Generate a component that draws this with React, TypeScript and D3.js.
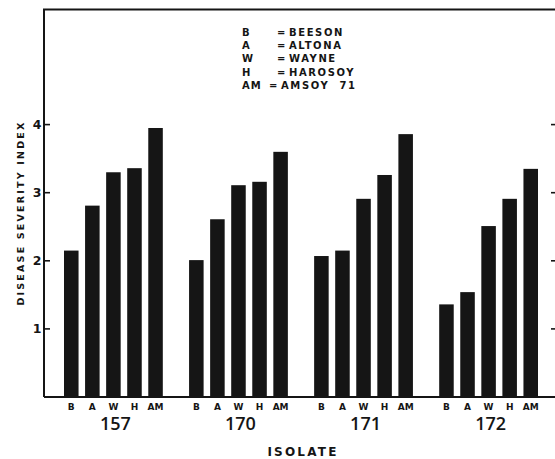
import React from 'react';
import * as d3 from 'd3';

// isolates along the x axis, cultivars inside each group
const isolates = ['157', '170', '171', '172'];
const cultivars = ['B', 'A', 'W', 'H', 'AM'];
const cultivarNames = ['BEESON', 'ALTONA', 'WAYNE', 'HAROSOY', 'AMSOY  71'];
const yTicks = [1, 2, 3, 4];

// disease severity index, one list per isolate
const sev157 = [2.15, 2.81, 3.3, 3.36, 3.95];
const sev170 = [2.01, 2.61, 3.11, 3.16, 3.6];
const sev171 = [2.07, 2.15, 2.91, 3.26, 3.86];
const sev172 = [1.36, 1.54, 2.51, 2.91, 3.35];
const severity = [sev157, sev170, sev171, sev172];

const W = 555;
const H = 459;
const left = 44;
const right = 558;
const top = 9.5;
const bottom = 397;
const ink = '#151515';
const labelFont = '"DejaVu Sans", sans-serif';

export default function App() {
  // y scale: top of the frame sits a bit above 5.6
  const y = d3.scaleLinear().domain([0, 5.69]).range([bottom, top]);

  // outer band per isolate, inner band per cultivar
  const xGroup = d3
    .scaleBand()
    .domain(isolates)
    .range([left, right])
    .paddingInner(0.21)
    .paddingOuter(0.16);
  const xBar = d3
    .scaleBand()
    .domain(cultivars)
    .range([0, xGroup.bandwidth()])
    .paddingInner(0.31)
    .paddingOuter(0);

  return (
    <svg
      width={W}
      height={H}
      style={{ position: 'absolute', left: 0, top: 0, background: '#fff' }}
    >
      {/* frame: left axis, top line, bottom axis (right side is cut off) */}
      <path
        d={['M', left, bottom, 'V', top, 'H', right].join(' ')}
        fill="none"
        stroke={ink}
        strokeWidth={2}
      />
      <line x1={left} x2={right} y1={bottom} y2={bottom} stroke={ink} strokeWidth={2} />

      {/* y ticks, pointing inward on both sides */}
      {yTicks.map((t) => (
        <g key={t}>
          <line x1={left} x2={left + 6} y1={y(t)} y2={y(t)} stroke={ink} strokeWidth={1.6} />
          <line x1={W - 4} x2={W} y1={y(t)} y2={y(t)} stroke={ink} strokeWidth={1.6} />
          <text
            x={37}
            y={y(t) + 4.5}
            textAnchor="middle"
            fontFamily={labelFont}
            fontWeight="bold"
            fontSize={12.5}
            fill={ink}
          >
            {t}
          </text>
        </g>
      ))}

      {/* y axis title */}
      <text
        transform={`translate(23.5, 213) rotate(-90)`}
        textAnchor="middle"
        fontFamily={labelFont}
        fontWeight="bold"
        fontSize={9.5}
        letterSpacing={2.2}
        fill={ink}
      >
        DISEASE SEVERITY INDEX
      </text>

      {/* bars */}
      {isolates.map((iso, gi) => (
        <g key={iso} transform={`translate(${xGroup(iso)}, 0)`}>
          {cultivars.map((c, ci) => (
            <g key={c}>
              <rect
                x={xBar(c)}
                y={y(severity[gi][ci])}
                width={xBar.bandwidth()}
                height={y(0) - y(severity[gi][ci])}
                fill={ink}
              />
              <text
                x={(xBar(c) as number) + xBar.bandwidth() / 2}
                y={410}
                textAnchor="middle"
                fontFamily={labelFont}
                fontWeight="bold"
                fontSize={9}
                fill={ink}
              >
                {c}
              </text>
            </g>
          ))}
          <text
            x={xGroup.bandwidth() / 2 + 2}
            y={429.5}
            textAnchor="middle"
            fontFamily='"Open Sans", sans-serif'
            fontWeight={600}
            fontSize={18}
            fill={ink}
          >
            {iso}
          </text>
        </g>
      ))}

      {/* x axis title */}
      <text
        x={(left + right) / 2 + 2}
        y={456}
        textAnchor="middle"
        fontFamily={labelFont}
        fontWeight="bold"
        fontSize={12}
        letterSpacing={2.2}
        fill={ink}
      >
        ISOLATE
      </text>

      {/* key */}
      {cultivars.map((c, i) => (
        <g key={c} transform={`translate(0, ${35.5 + i * 13.4})`}>
          <text x={242} fontFamily={labelFont} fontWeight="bold" fontSize={10} letterSpacing={1} fill={ink}>
            {c}
          </text>
          <text
            x={c === 'AM' ? 269 : 277}
            fontFamily={labelFont}
            fontWeight="bold"
            fontSize={10}
            fill={ink}
          >
            =
          </text>
          <text
            x={c === 'AM' ? 281 : 289}
            fontFamily={labelFont}
            fontWeight="bold"
            fontSize={10}
            letterSpacing={1.6}
            fill={ink}
            style={{ whiteSpace: 'pre' }}
          >
            {cultivarNames[i]}
          </text>
        </g>
      ))}
    </svg>
  );
}
